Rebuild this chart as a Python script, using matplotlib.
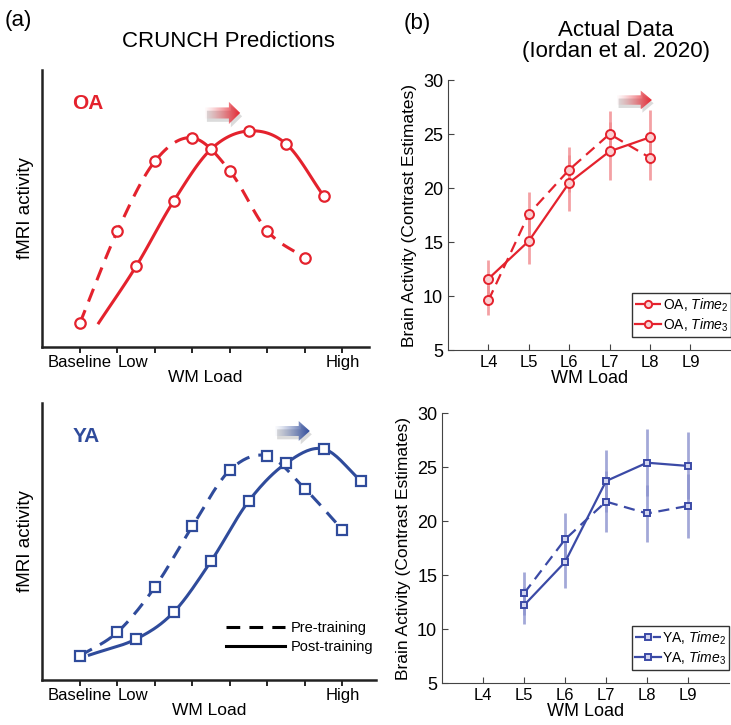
import numpy as np
import matplotlib
matplotlib.use("Agg")
import matplotlib.pyplot as plt
import matplotlib.transforms as mtransforms
from matplotlib.patches import Polygon

plt.rcParams['font.family'] = ['Liberation Sans', 'DejaVu Sans']
plt.rcParams['mathtext.fontset'] = 'custom'
plt.rcParams['mathtext.rm'] = 'Liberation Sans'
plt.rcParams['mathtext.it'] = 'Liberation Sans:italic'

RED = '#e4222d'
BLUE = '#2f4b9b'
BLUE_R = '#3b4aa6'

# ---- (a) CRUNCH predictions (arbitrary activity units) ----
oa_pre_x = [1, 2, 3, 4, 5, 6, 7]
oa_pre_y = [0.87, 4.19, 6.71, 7.55, 6.35, 4.19, 3.21]
oa_post_x = [1.5, 2.5, 3.5, 4.5, 5.5, 6.5, 7.5]
oa_post_y = [0.87, 2.92, 5.27, 7.15, 7.80, 7.33, 5.45]

ya_pre_x = [1, 2, 3, 4, 5, 6, 7, 8]
ya_pre_y = [0.87, 1.73, 3.36, 5.56, 7.58, 8.09, 6.90, 5.42]
ya_post_x = [1.25, 2.5, 3.5, 4.5, 5.5, 6.5, 7.5, 8.5]
ya_post_y = [0.90, 1.48, 2.45, 4.30, 6.46, 7.83, 8.34, 7.18]

crunch_ticks = [1, 2, 3, 4, 5, 6, 7, 8]
crunch_labels = ['Baseline', 'Low', '', '', '', '', '', 'High']

# ---- (b) Actual data (Iordan et al. 2020) ----
load_labels = ['L4', 'L5', 'L6', 'L7', 'L8', 'L9']
load_pos = [4, 5, 6, 7, 8, 9]

oa_x = [4, 5, 6, 7, 8]
oa_t2 = [9.6, 17.6, 21.7, 25.0, 22.8]
oa_t2_err = [1.4, 2.0, 2.1, 2.1, 2.1]
oa_t3 = [11.6, 15.1, 20.5, 23.4, 24.7]
oa_t3_err = [1.7, 2.1, 2.6, 2.7, 2.5]

ya_x = [5, 6, 7, 8, 9]
ya_t2 = [13.3, 18.3, 21.8, 20.7, 21.4]
ya_t2_err = [2.0, 2.4, 2.8, 2.6, 3.0]
ya_t3 = [12.2, 16.2, 23.7, 25.4, 25.1]
ya_t3_err = [1.7, 2.4, 2.9, 3.1, 3.1]


def smooth(x, y, n=20):
    """Catmull-Rom curve through the given points, for drawing only"""
    p = np.column_stack([x, y]).astype(float)
    p = np.vstack([2 * p[0] - p[1], p, 2 * p[-1] - p[-2]])
    t = np.linspace(0, 1, n, endpoint=False)[:, None]
    out = []
    for i in range(1, len(p) - 2):
        p0, p1, p2, p3 = p[i - 1], p[i], p[i + 1], p[i + 2]
        seg = 0.5 * (2 * p1 + (-p0 + p2) * t + (2 * p0 - 5 * p1 + 4 * p2 - p3) * t ** 2
                     + (-p0 + 3 * p1 - 3 * p2 + p3) * t ** 3)
        out.append(seg)
    out.append(p[-2][None, :])
    out = np.vstack(out)
    return out[:, 0], out[:, 1]


def gradient_arrow(ax, x0, yc, w, h, color):
    """shaded arrow pointing right, in axes fraction coordinates"""
    bw = w * 0.68
    bh = h * 0.5
    pts = [(x0, yc - bh / 2), (x0 + bw, yc - bh / 2), (x0 + bw, yc - h / 2),
           (x0 + w, yc), (x0 + bw, yc + h / 2), (x0 + bw, yc + bh / 2), (x0, yc + bh / 2)]
    shadow = Polygon([(px + 0.006, py - 0.012) for px, py in pts], closed=True,
                     transform=ax.transAxes, fc='#9a9a9a', ec='none', alpha=0.35, zorder=4)
    ax.add_patch(shadow)
    poly = Polygon(pts, closed=True, transform=ax.transAxes, fc='none', ec='none', zorder=5)
    ax.add_patch(poly)
    rgb = matplotlib.colors.to_rgb(color)
    img = np.zeros((2, 64, 4))
    img[..., :3] = rgb
    img[..., 3] = np.linspace(0.05, 1.0, 64) ** 1.3
    im = ax.imshow(img, extent=(x0, x0 + w, yc - h / 2, yc + h / 2), transform=ax.transAxes,
                   aspect='auto', zorder=5, interpolation='bilinear')
    im.set_clip_path(poly)


def crunch_panel(ax, pre_x, pre_y, post_x, post_y, color, marker, ms, label, xmax):
    sx, sy = smooth(pre_x, pre_y)
    ax.plot(sx, sy, color=color, lw=2.2, dashes=(4.5, 3))
    ax.plot(pre_x, pre_y, ls='none', marker=marker, ms=ms, mfc='white', mec=color, mew=1.6)
    sx, sy = smooth(post_x, post_y)
    ax.plot(sx, sy, color=color, lw=2.2)
    ax.plot(post_x[1:], post_y[1:], ls='none', marker=marker, ms=ms, mfc='white', mec=color, mew=1.6)
    ax.set_xlim(0, xmax)
    ax.set_ylim(0, 10)
    ax.set_xticks(crunch_ticks)
    ax.set_xticklabels(crunch_labels, fontsize=12)
    # labels sit beside their ticks in the original, not centred
    tl = ax.get_xticklabels()
    tl[0].set_transform(tl[0].get_transform() +
                        mtransforms.ScaledTranslation(-0.07, 0, ax.figure.dpi_scale_trans))
    tl[1].set_ha('left')
    tl[1].set_transform(tl[1].get_transform() +
                        mtransforms.ScaledTranslation(-0.01, 0, ax.figure.dpi_scale_trans))
    tl[7].set_transform(tl[7].get_transform() +
                        mtransforms.ScaledTranslation(0.03, 0, ax.figure.dpi_scale_trans))
    ax.set_yticks([])
    for side in ['top', 'right']:
        ax.spines[side].set_visible(False)
    for side in ['left', 'bottom']:
        ax.spines[side].set_linewidth(1.8)
        ax.spines[side].set_color('#222222')
    ax.tick_params(axis='x', direction='out', length=4, width=1.2, pad=2)
    ax.set_xlabel('WM Load', fontsize=12.5, labelpad=0)
    ax.set_ylabel('fMRI activity', fontsize=13.5, labelpad=6)
    ax.text(0.09, 0.88, label, transform=ax.transAxes, color=color, fontsize=15,
            fontweight='bold', va='center')


def data_panel(ax, x, t2, t2e, t3, t3e, color, ecolor, mfill, marker, ms, group):
    ax.errorbar(x, t2, yerr=t2e, fmt='none', ecolor=ecolor, elinewidth=2, alpha=0.8, zorder=2)
    ax.errorbar(x, t3, yerr=t3e, fmt='none', ecolor=ecolor, elinewidth=2, alpha=0.8, zorder=2)
    ax.plot(x, t2, color=color, lw=1.6, dashes=(5, 3), marker=marker, ms=ms,
            mfc=mfill, mec=color, mew=1.4, zorder=3,
            label=group + r', $\mathit{Time}_2$')
    ax.plot(x, t3, color=color, lw=1.6, marker=marker, ms=ms,
            mfc=mfill, mec=color, mew=1.4, zorder=3,
            label=group + r', $\mathit{Time}_3$')
    ax.set_xlim(3, 10)
    ax.set_ylim(5, 30)
    ax.set_xticks(load_pos)
    ax.set_xticklabels(load_labels, fontsize=12)
    ax.set_yticks([5, 10, 15, 20, 25, 30])
    ax.tick_params(axis='y', labelsize=13)
    ax.tick_params(direction='in', length=4, width=0.8, color='#444444')
    for side in ['top', 'right']:
        ax.spines[side].set_visible(False)
    for side in ['left', 'bottom']:
        ax.spines[side].set_color('#444444')
    ax.set_xlabel('WM Load', fontsize=13, labelpad=0)
    ax.set_ylabel('Brain Activity (Contrast Estimates)', fontsize=12.5, labelpad=4)
    leg = ax.legend(loc='lower right', bbox_to_anchor=(1.0, 0.05), fontsize=10,
                    handlelength=1.9, handletextpad=0.1, borderpad=0.2, labelspacing=0.2,
                    fancybox=False, framealpha=1, borderaxespad=0, markerscale=0.8)
    leg.get_frame().set_edgecolor('#333333')
    leg.get_frame().set_linewidth(1.0)


fig = plt.figure(figsize=(7.31, 7.25), dpi=100)

ax1 = fig.add_axes([0.0581, 0.5214, 0.4463, 0.382])
crunch_panel(ax1, oa_pre_x, oa_pre_y, oa_post_x, oa_post_y, RED, 'o', 7.5, 'OA', 8.7)
gradient_arrow(ax1, 0.498, 0.845, 0.108, 0.08, RED)

ax2 = fig.add_axes([0.0581, 0.0621, 0.4566, 0.382])
crunch_panel(ax2, ya_pre_x, ya_pre_y, ya_post_x, ya_post_y, BLUE, 's', 7.5, 'YA', 8.9)
gradient_arrow(ax2, 0.697, 0.899, 0.104, 0.072, BLUE)
ax2.plot([], [], color='black', lw=2.2, dashes=(4.5, 3), label='Pre-training')
ax2.plot([], [], color='black', lw=2.2, label='Post-training')
handles, labels = ax2.get_legend_handles_labels()
ax2.legend(handles, labels, loc='lower right', bbox_to_anchor=(1.03, 0.045), frameon=False,
           fontsize=10.5, handlelength=4.0, handletextpad=0.4, labelspacing=0.35)

ax3 = fig.add_axes([0.6129, 0.5172, 0.3869, 0.3724])
data_panel(ax3, oa_x, oa_t2, oa_t2_err, oa_t3, oa_t3_err, RED, '#f18a8e', '#fbd0d2', 'o', 6.5, 'OA')
gradient_arrow(ax3, 0.597, 0.926, 0.124, 0.07, RED)

ax4 = fig.add_axes([0.6047, 0.0579, 0.3926, 0.3724])
data_panel(ax4, ya_x, ya_t2, ya_t2_err, ya_t3, ya_t3_err, BLUE_R, '#8c93cf', '#d3d6f0', 's', 5, 'YA')

fig.text(0.007, 0.972, '(a)', fontsize=16, va='center')
fig.text(0.312, 0.943, 'CRUNCH Predictions', fontsize=16, ha='center', va='center')
fig.text(0.552, 0.968, '(b)', fontsize=16, va='center')
fig.text(0.842, 0.943, 'Actual Data\n(Iordan et al. 2020)', fontsize=16, ha='center',
         va='center', linespacing=1.0)

fig.savefig('out.png', dpi=100)
